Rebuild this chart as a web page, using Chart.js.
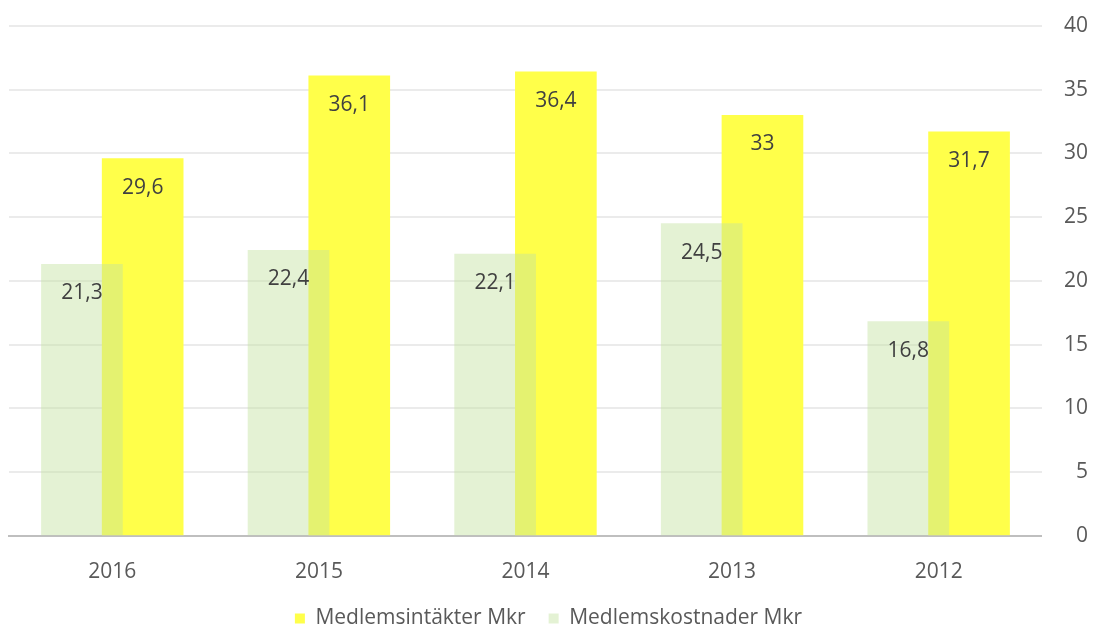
<!DOCTYPE html>
<html>
<head>
<meta charset="utf-8">
<script src="https://cdn.jsdelivr.net/npm/chart.js@4.4.0/dist/chart.umd.min.js"></script>
<style>
    html, body { margin: 0; padding: 0; background: #ffffff; }
    #wrap { width: 1093px; height: 628px; }
</style>
</head>
<body>
<div id="wrap"><canvas id="chart"></canvas></div>
<script>
// ================== DATA ==================
const years = ['2016', '2015', '2014', '2013', '2012'];
const intakter = [29.6, 36.1, 36.4, 33, 31.7];      // Medlemsintäkter Mkr
const kostnader = [21.3, 22.4, 22.1, 24.5, 16.8];   // Medlemskostnader Mkr
const yTicks = [0, 5, 10, 15, 20, 25, 30, 35, 40];

// ================== STYLE ==================
const FONT = '"Open Sans", sans-serif';
const TEXT_COLOR = '#595959';
const SHIFT = 0.147; // how far each bar sits from the category centre

const toPoints = (values, shift) => values.map((v, i) => ({ x: i + shift, y: v }));
const fmt = v => String(v).replace('.', ',');

// Value labels drawn inside the top of each bar
const valueLabels = {
    id: 'valueLabels',
    afterDatasetsDraw(chart) {
        const ctx = chart.ctx;
        ctx.save();
        ctx.font = '21px ' + FONT;
        ctx.fillStyle = '#404040';
        ctx.textAlign = 'center';
        ctx.textBaseline = 'middle';
        chart.data.datasets.forEach((ds, di) => {
            chart.getDatasetMeta(di).data.forEach((bar, i) => {
                ctx.fillText(fmt(ds.data[i].y), bar.x, bar.y + 29);
            });
        });
        ctx.restore();
    }
};

new Chart(document.getElementById('chart'), {
    type: 'bar',
    data: {
        datasets: [
            {
                label: 'Medlemsintäkter Mkr',
                data: toPoints(intakter, SHIFT),
                backgroundColor: '#ffff4a',
                barThickness: 81,
                grouped: false,
                order: 1
            },
            {
                label: 'Medlemskostnader Mkr',
                data: toPoints(kostnader, -SHIFT),
                backgroundColor: 'rgba(196, 226, 160, 0.45)',
                barThickness: 81,
                grouped: false,
                order: 0
            }
        ]
    },
    options: {
        responsive: true,
        maintainAspectRatio: false,
        animation: false,
        layout: { padding: { left: 9, right: 5, top: 26, bottom: -11 } },
        plugins: {
            legend: {
                position: 'bottom',
                labels: {
                    boxWidth: 10,
                    boxHeight: 10,
                    padding: 23,
                    color: TEXT_COLOR,
                    font: { family: FONT, size: 21 },
                    sort: (a, b) => a.datasetIndex - b.datasetIndex
                }
            },
            tooltip: { enabled: false }
        },
        scales: {
            x: {
                type: 'linear',
                offset: false,
                min: -0.5,
                max: 4.5,
                grid: { display: false, tickLength: 24 },
                border: { color: '#bfbfbf', width: 2 },
                afterBuildTicks: axis => { axis.ticks = years.map((_, i) => ({ value: i })); },
                ticks: {
                    padding: 0,
                    color: TEXT_COLOR,
                    font: { family: FONT, size: 21 },
                    callback: v => years[v]
                }
            },
            y: {
                position: 'right',
                min: 0,
                max: 40,
                afterBuildTicks: axis => { axis.ticks = yTicks.map(v => ({ value: v })); },
                grid: { color: '#ebebeb', lineWidth: 2, drawTicks: false },
                border: { display: false },
                ticks: {
                    padding: 11,
                    crossAlign: 'far',
                    color: TEXT_COLOR,
                    font: { family: FONT, size: 21 }
                }
            }
        }
    },
    plugins: [valueLabels]
});
</script>
</body>
</html>
